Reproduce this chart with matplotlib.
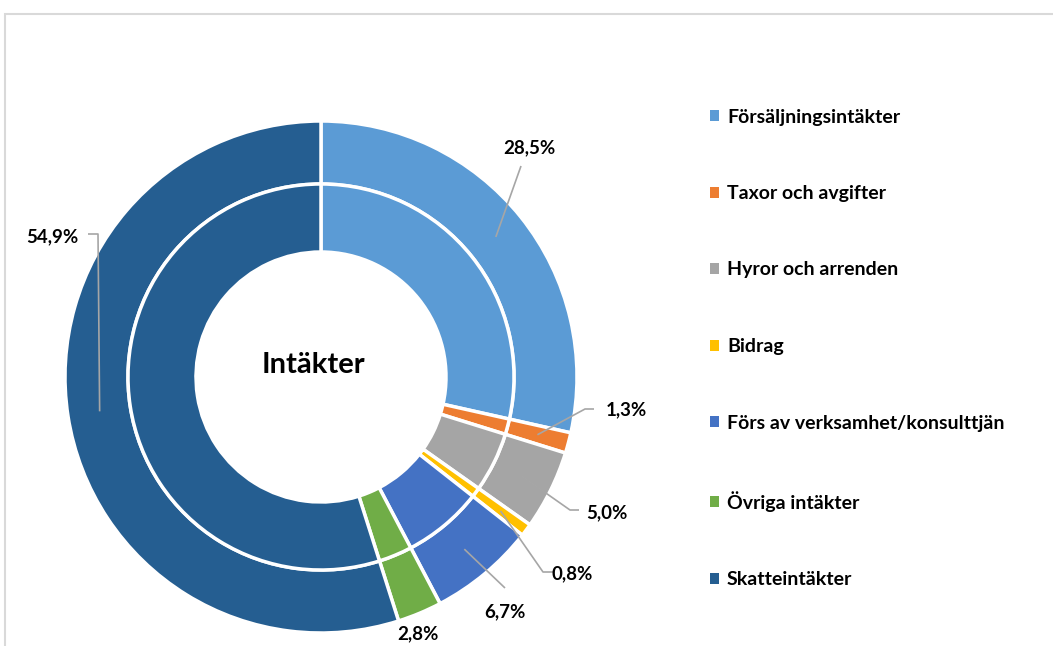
import numpy as np
import matplotlib.pyplot as plt
from matplotlib.patches import Rectangle

plt.rcParams['font.family'] = ['Lato', 'DejaVu Sans']

names = ['Försäljningsintäkter', 'Taxor och avgifter', 'Hyror och arrenden', 'Bidrag',
         'Förs av verksamhet/konsulttjän', 'Övriga intäkter', 'Skatteintäkter']
shares = [28.5, 1.3, 5.0, 0.8, 6.7, 2.8, 54.9]
colors = ['#5B9BD5', '#ED7D31', '#A5A5A5', '#FFC000', '#4472C4', '#70AD47', '#255E91']
labels = ['28,5%', '1,3%', '5,0%', '0,8%', '6,7%', '2,8%', '54,9%']

W, H = 1053, 646
fig = plt.figure(figsize=(W / 100, H / 100), dpi=100)
ax = fig.add_axes([0, 0, 1, 1])

# chart frame (light grey, runs off the right/bottom edge)
fig.patches.append(Rectangle((5 / W, -0.1), 1.2, (H - 14) / H + 0.1, transform=fig.transFigure,
                             fill=False, edgecolor='#D9D9D9', linewidth=1.5))

cx, cy = 321, H - 377
r_out, r_mid, r_in = 256, 193, 125

wedges, _ = ax.pie(shares, radius=r_out, center=(cx, cy), colors=colors, startangle=90,
                   counterclock=False, wedgeprops=dict(width=r_out - r_mid, edgecolor='white', linewidth=2.5))
ax.pie(shares, radius=r_mid, center=(cx, cy), colors=colors, startangle=90,
       counterclock=False, wedgeprops=dict(width=r_mid - r_in, edgecolor='white', linewidth=2.5))

ax.set_xlim(0, W)
ax.set_ylim(0, H)
ax.set_aspect('equal')
ax.axis('off')

ax.text(cx - 8, H - 365, 'Intäkter', ha='center', va='center', fontsize=21, fontweight='bold')

# label text positions and leader line bends (pixel coords, y from top)
text_pos = [(529, 148), (626, 410), (607, 513), (572, 574), (505, 612), (418, 634), (52, 237)]
bends = [[(521, 166)],
         [(585, 409), (594, 409)],
         [(570, 510), (579, 510)],
         [(543, 572), (553, 572)],
         [(505, 588)],
         [],
         [(98, 234), (88, 234)]]

cum = np.cumsum([0] + shares[:-1])
for i, w in enumerate(wedges):
    mid = np.deg2rad(90 - (cum[i] + shares[i] / 2) * 3.6)
    ax_x = cx + 224 * np.cos(mid)
    ax_y = cy + 224 * np.sin(mid)
    if bends[i]:
        xs = [ax_x] + [b[0] for b in bends[i]]
        ys = [ax_y] + [H - b[1] for b in bends[i]]
        ax.plot(xs, ys, color='#A6A6A6', linewidth=1.2, solid_capstyle='butt')
    tx, ty = text_pos[i]
    ax.text(tx, H - ty, labels[i], ha='center', va='center', fontsize=13.5, fontweight='bold')

leg = fig.legend(wedges, names, loc='upper left', bbox_to_anchor=(692 / W, 1 - 91 / H),
                 frameon=False, handlelength=0.5, handleheight=0.5, handletextpad=0.4,
                 labelspacing=3.06, prop=dict(size=14, weight='bold'))
for h in leg.legend_handles:
    h.set_edgecolor('none')

fig.savefig('out.png', dpi=100)
